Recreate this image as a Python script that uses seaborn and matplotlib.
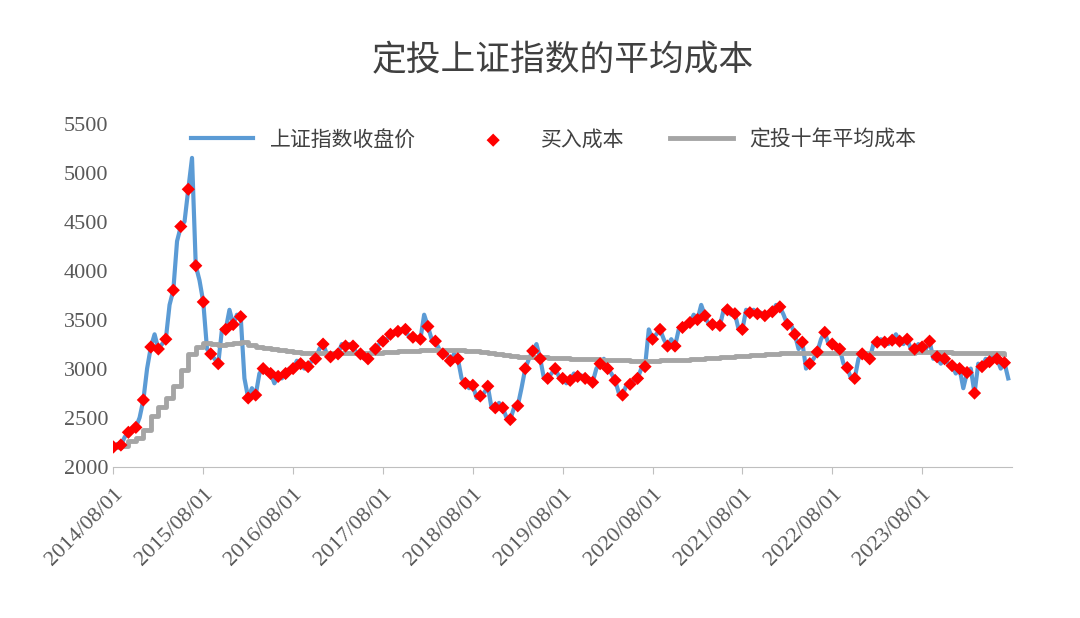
import numpy as np
import pandas as pd
import matplotlib
matplotlib.use("Agg")
import matplotlib.pyplot as plt
import seaborn as sns

# monthly buy cost (close on buy day), 2014/08 .. 2024/07
buy_2014 = [2200, 2220, 2350, 2400, 2680]
buy_2015 = [3220, 3200, 3300, 3800, 4450, 4830, 4050, 3680, 3150, 3050, 3400, 3450]
buy_2016 = [3530, 2700, 2730, 3000, 2950, 2920, 2950, 3000, 3050, 3020, 3100, 3250]
buy_2017 = [3120, 3150, 3230, 3230, 3150, 3100, 3200, 3280, 3350, 3380, 3400, 3320]
buy_2018 = [3300, 3430, 3280, 3150, 3080, 3100, 2850, 2830, 2720, 2820, 2600, 2600]
buy_2019 = [2480, 2620, 3000, 3180, 3100, 2900, 3000, 2900, 2880, 2920, 2900, 2860]
buy_2020 = [3050, 3000, 2880, 2730, 2840, 2900, 3020, 3300, 3400, 3230, 3230, 3420]
buy_2021 = [3470, 3500, 3540, 3450, 3440, 3600, 3560, 3400, 3570, 3560, 3540, 3580]
buy_2022 = [3630, 3450, 3350, 3270, 3050, 3170, 3370, 3250, 3200, 3010, 2900, 3150]
buy_2023 = [3100, 3270, 3270, 3290, 3280, 3300, 3200, 3220, 3280, 3120, 3100, 3030]
buy_2024 = [3000, 2960, 2750, 3020, 3070, 3100, 3060]

# mid-month index close, same months
mid_2014 = [2230, 2300, 2380, 2500, 3000]
mid_2015 = [3350, 3250, 3650, 4300, 4500, 5150, 3900, 3200, 3100, 3400, 3600, 3550]
mid_2016 = [2900, 2800, 2950, 2950, 2850, 2900, 3000, 3080, 3000, 3080, 3200, 3150]
mid_2017 = [3150, 3250, 3250, 3150, 3100, 3180, 3250, 3300, 3370, 3400, 3320, 3300]
mid_2018 = [3550, 3300, 3200, 3150, 3150, 2900, 2800, 2700, 2750, 2600, 2650, 2500]
mid_2019 = [2600, 2800, 3100, 3250, 2900, 2950, 2920, 2850, 2950, 2930, 2900, 3000]
mid_2020 = [3100, 2950, 2750, 2830, 2880, 3000, 3400, 3350, 3300, 3300, 3400, 3450]
mid_2021 = [3550, 3650, 3450, 3450, 3600, 3550, 3400, 3600, 3600, 3570, 3550, 3650]
mid_2022 = [3550, 3450, 3200, 3000, 3100, 3300, 3250, 3200, 3050, 2900, 3100, 3150]
mid_2023 = [3250, 3300, 3250, 3350, 3250, 3200, 3250, 3200, 3100, 3050, 3050, 2950]
mid_2024 = [2800, 3000, 3050, 3100, 3150, 3000, 2900]

TICK_LABELS = ["2014/08/01", "2015/08/01", "2016/08/01", "2017/08/01", "2018/08/01",
               "2019/08/01", "2020/08/01", "2021/08/01", "2022/08/01", "2023/08/01"]

buy = buy_2014 + buy_2015 + buy_2016 + buy_2017 + buy_2018 + buy_2019 + buy_2020 + buy_2021 + buy_2022 + buy_2023 + buy_2024
mid = mid_2014 + mid_2015 + mid_2016 + mid_2017 + mid_2018 + mid_2019 + mid_2020 + mid_2021 + mid_2022 + mid_2023 + mid_2024

months = np.arange(len(buy))
df = pd.DataFrame({"m": months, "buy": buy, "mid": mid})
df["avg"] = df["buy"].expanding().mean()

line_x = np.ravel(np.column_stack([months, months + 0.5]))
line_y = np.ravel(np.column_stack([buy, mid]))
line_df = pd.DataFrame({"x": line_x, "y": line_y})

plt.rcParams["font.family"] = ["Liberation Serif", "Noto Sans CJK SC"]
fig, ax = plt.subplots(figsize=(10.8, 6.18), dpi=100)
fig.subplots_adjust(left=0.105, right=0.937, top=0.8, bottom=0.245)

sns.lineplot(data=line_df, x="x", y="y", ax=ax, color="#5B9BD5", lw=3, label="上证指数收盘价")
sns.scatterplot(data=df, x="m", y="buy", ax=ax, color="#FF0000", marker="D", s=45,
                edgecolor="none", label="买入成本", zorder=3)
ax.step(df["m"], df["avg"], where="post", color="#A5A5A5", lw=3.5, label="定投十年平均成本", zorder=2)

ax.set_xlim(0, 120)
ax.set_ylim(2000, 5500)
ax.set_yticks(range(2000, 5501, 500))
ax.set_xticks(range(0, 120, 12))
ax.set_xticklabels(TICK_LABELS, rotation=45, ha="right", rotation_mode="anchor")
ax.tick_params(axis="y", length=0, labelsize=16, colors="#595959")
ax.tick_params(axis="x", labelsize=16, colors="#595959", length=5, color="#BFBFBF", pad=8)
ax.set_xlabel("")
ax.set_ylabel("")
for s in ["top", "right", "left"]:
    ax.spines[s].set_visible(False)
ax.spines["bottom"].set_color("#BFBFBF")

ax.set_title("定投上证指数的平均成本", fontsize=25, color="#404040",
             fontfamily="Noto Sans CJK SC", pad=38)
leg = ax.legend(loc="upper center", bbox_to_anchor=(0.49, 1.04), ncol=3, frameon=False,
                prop={"family": "Noto Sans CJK SC", "size": 15}, handlelength=3, columnspacing=2.2)
for t in leg.get_texts():
    t.set_color("#404040")

fig.savefig("out.png", dpi=100)
